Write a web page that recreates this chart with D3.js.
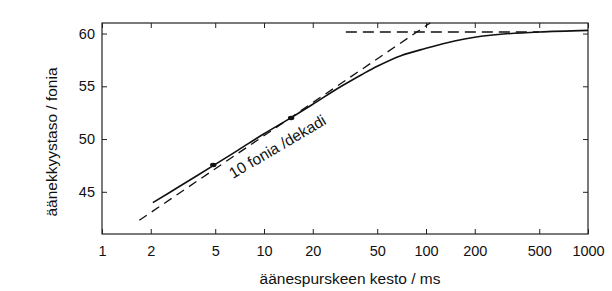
<!DOCTYPE html>
<html>
<head>
<meta charset="utf-8">
<script src="https://cdn.jsdelivr.net/npm/d3@7"></script>
<style>
  body { margin: 0; background: #fff; }
  text { font-family: "Liberation Sans", Arial, sans-serif; fill: #111; }
</style>
</head>
<body>
<div id="chart"></div>
<script>
// x ticks (ms) and y ticks (fonia)
const xTicks = [1, 2, 5, 10, 20, 50, 100, 200, 500, 1000];
const yTicks = [45, 50, 55, 60];

// measured loudness curve
const durMs = [2.06, 3, 5, 7, 10, 15, 20, 30, 40, 50, 70, 100, 150, 200, 300, 500, 1000];
const loud  = [43.97, 45.5, 47.6, 49.0, 50.5, 52.1, 53.3, 55.0, 56.1, 56.9, 57.9, 58.6, 59.3, 59.65, 59.95, 60.15, 60.3];

// asymptotes (dashed): 10 fonia / dekadi slope and the 60 fonia plateau
const slopeLine   = [[1.7, 42.3], [106, 61]];
const plateauLine = [[32, 60.15], [500, 60.15]];

// small blobs on the curve
const marks = [[4.86, 47.54], [14.7, 52.0]];

const width = 612, height = 291;
const svg = d3.select("#chart").append("svg").attr("width", width).attr("height", height);

const x = d3.scaleLog().domain([1, 1000]).range([102, 588]);
const y = d3.scaleLinear().domain([41, 61]).range([234, 23]);

// frame
svg.append("rect")
    .attr("x", x(1)).attr("y", y(61))
    .attr("width", x(1000) - x(1)).attr("height", y(41) - y(61))
    .attr("fill", "none").attr("stroke", "#222").attr("stroke-width", 1.2);

let gx = svg.append("g").attr("transform", "translate(0," + y(41) + ")")
    .call(d3.axisBottom(x).tickValues(xTicks).tickFormat(d3.format("d")).tickSizeInner(-5).tickSizeOuter(0).tickPadding(11.5));
let gxt = svg.append("g").attr("transform", "translate(0," + y(61) + ")")
    .call(d3.axisTop(x).tickValues(xTicks).tickFormat("").tickSizeInner(-5).tickSizeOuter(0));
let gy = svg.append("g").attr("transform", "translate(" + x(1) + ",0)")
    .call(d3.axisLeft(y).tickValues(yTicks).tickSizeInner(-5).tickSizeOuter(0).tickPadding(7));
let gyr = svg.append("g").attr("transform", "translate(" + x(1000) + ",0)")
    .call(d3.axisRight(y).tickValues(yTicks).tickFormat("").tickSizeInner(-5).tickSizeOuter(0));

[gx, gxt, gy, gyr].forEach(g => {
    g.select(".domain").remove();
    g.selectAll("line").attr("stroke", "#222").attr("stroke-width", 1);
    g.selectAll("text").style("font-size", "14.5px").attr("fill", "#111");
});

const line = d3.line().x(d => x(d[0])).y(d => y(d[1]));

svg.append("path")
    .datum(slopeLine)
    .attr("d", line)
    .attr("fill", "none").attr("stroke", "#111").attr("stroke-width", 1.3)
    .attr("stroke-dasharray", "9,6");

svg.append("path")
    .datum(plateauLine)
    .attr("d", line)
    .attr("fill", "none").attr("stroke", "#111").attr("stroke-width", 1.5)
    .attr("stroke-dasharray", "11,6");

const curve = d3.line().x(d => x(d[0])).y(d => y(d[1])).curve(d3.curveCatmullRom.alpha(0.5));
svg.append("path")
    .datum(durMs.map((d, i) => [d, loud[i]]))
    .attr("d", curve)
    .attr("fill", "none").attr("stroke", "#111").attr("stroke-width", 1.6);

svg.selectAll(".blob")
    .data(marks)
    .enter()
    .append("ellipse")
    .attr("cx", d => x(d[0])).attr("cy", d => y(d[1]))
    .attr("rx", 3.2).attr("ry", 2.2)
    .attr("fill", "#111");

// labels
svg.append("text")
    .attr("transform", "translate(233,179) rotate(-30.5)")
    .style("font-size", "15.5px")
    .text("10 fonia /dekadi");

svg.append("text")
    .attr("x", 350).attr("y", 284)
    .attr("text-anchor", "middle")
    .style("font-size", "15.5px")
    .text("äänespurskeen kesto / ms");

svg.append("text")
    .attr("transform", "translate(52,142) rotate(-90)")
    .attr("text-anchor", "middle")
    .attr("dy", "0.35em")
    .style("font-size", "15.5px")
    .text("äänekkyystaso / fonia");
</script>
</body>
</html>
